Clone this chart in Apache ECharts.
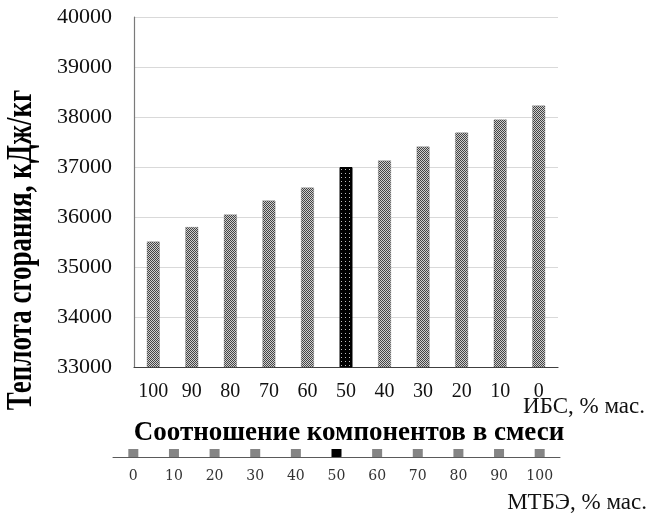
<!DOCTYPE html>
<html>
<head>
<meta charset="utf-8">
<script src="https://cdn.jsdelivr.net/npm/echarts@6/dist/echarts.min.js"></script>
<style>
  html, body { margin: 0; padding: 0; background: #fff; }
  #chart { width: 650px; height: 517px; }
</style>
</head>
<body>
<div id="chart"></div>
<script>
// Share of ИБС in the blend (upper scale) and of МТБЭ (lower scale), % mass
const ibsShare = ['100', '90', '80', '70', '60', '50', '40', '30', '20', '10', '0'];
const mtbeShare = ['0', '10', '20', '30', '40', '50', '60', '70', '80', '90', '100'];
// Heat of combustion, kJ/kg
const heatValues = [35510, 35800, 36050, 36330, 36590, 37000, 37130, 37410, 37690, 37950, 38230];
// Baseline markers of the lower scale (one per blend)
const mtbeMarks = [0, 0, 0, 0, 0, 0, 0, 0, 0, 0, 0];
// Equal-parts blend, drawn in the dark pattern
const equalBlendIndex = 5;

// Small tiled patterns for the bar fills
function makePattern(size, paint) {
  const c = document.createElement('canvas');
  c.width = size; c.height = size;
  const g = c.getContext('2d');
  paint(g);
  return { image: c, repeat: 'repeat' };
}
const greyChecker = makePattern(2, g => {
  g.fillStyle = '#cfcfcf'; g.fillRect(0, 0, 2, 2);
  g.fillStyle = '#444444'; g.fillRect(0, 0, 1, 1); g.fillRect(1, 1, 1, 1);
});
const darkDotted = makePattern(4, g => {
  g.fillStyle = '#000'; g.fillRect(0, 0, 4, 4);
  g.fillStyle = '#bdbdbd'; g.fillRect(1, 1, 1, 1);
});

const serif = '"Liberation Serif", "Times New Roman", serif';

const chart = echarts.init(document.getElementById('chart'), null, { renderer: 'canvas' });

chart.setOption({
  animation: false,
  backgroundColor: '#ffffff',
  grid: [
    { left: 134, top: 17, width: 424, height: 350 },
    { left: 113, top: 441, width: 447, height: 16 }
  ],
  xAxis: [
    {
      type: 'category', gridIndex: 0, data: ibsShare,
      axisLine: { lineStyle: { color: '#404040', width: 1.2 } },
      axisTick: { show: false },
      axisLabel: { interval: 0, fontFamily: serif, fontSize: 20, color: '#111', margin: 15 }
    },
    {
      type: 'category', gridIndex: 1, data: mtbeShare,
      axisLine: { lineStyle: { color: '#5a5a5a', width: 1 } },
      axisTick: { show: false },
      axisLabel: { interval: 0, fontFamily: 'DejaVu Serif', fontSize: 14, color: '#333', margin: 12 }
    }
  ],
  yAxis: [
    {
      type: 'value', gridIndex: 0, min: 33000, max: 40000, interval: 1000,
      axisLine: { show: true, lineStyle: { color: '#7a7a7a', width: 1.2 } },
      axisTick: { show: false },
      splitLine: { lineStyle: { color: '#d9d9d9', width: 1 } },
      axisLabel: {
        fontFamily: serif, fontSize: 22, color: '#111', margin: 22,
        formatter: v => String(v)
      }
    },
    {
      type: 'value', gridIndex: 1, min: 0, max: 1, show: false
    }
  ],
  series: [
    {
      type: 'bar', xAxisIndex: 0, yAxisIndex: 0,
      barWidth: 13,
      data: heatValues.map((v, i) => ({
        value: v,
        itemStyle: i === equalBlendIndex
          ? { color: darkDotted, borderColor: '#000', borderWidth: 1 }
          : { color: greyChecker, borderColor: '#5a5a5a', borderWidth: 0.6, borderType: 'dotted' }
      }))
    },
    {
      type: 'scatter', xAxisIndex: 1, yAxisIndex: 1,
      symbol: 'rect', symbolSize: [10, 8], symbolOffset: [0, -4],
      data: mtbeMarks.map((v, i) => ({
        value: v,
        itemStyle: i === equalBlendIndex
          ? { color: darkDotted, opacity: 1 }
          : { color: '#858585', opacity: 1 }
      }))
    }
  ],
  graphic: [
    {
      type: 'text',
      x: 22, y: 250,
      rotation: Math.PI / 2,
      scaleY: 1.3,
      style: {
        text: 'Теплота сгорания, кДж/кг',
        font: 'bold 27px ' + serif, fill: '#000',
        textAlign: 'center', textVerticalAlign: 'middle'
      }
    },
    {
      type: 'text',
      x: 349, y: 433,
      style: {
        text: 'Соотношение компонентов в смеси',
        font: 'bold 27px ' + serif, fill: '#000',
        textAlign: 'center', textVerticalAlign: 'middle'
      }
    },
    {
      type: 'text',
      x: 645, y: 407,
      style: {
        text: 'ИБС, % мас.',
        font: '23px ' + serif, fill: '#111',
        textAlign: 'right', textVerticalAlign: 'middle'
      }
    },
    {
      type: 'text',
      x: 647, y: 503,
      style: {
        text: 'МТБЭ, % мас.',
        font: '23px ' + serif, fill: '#111',
        textAlign: 'right', textVerticalAlign: 'middle'
      }
    }
  ]
});
</script>
</body>
</html>
